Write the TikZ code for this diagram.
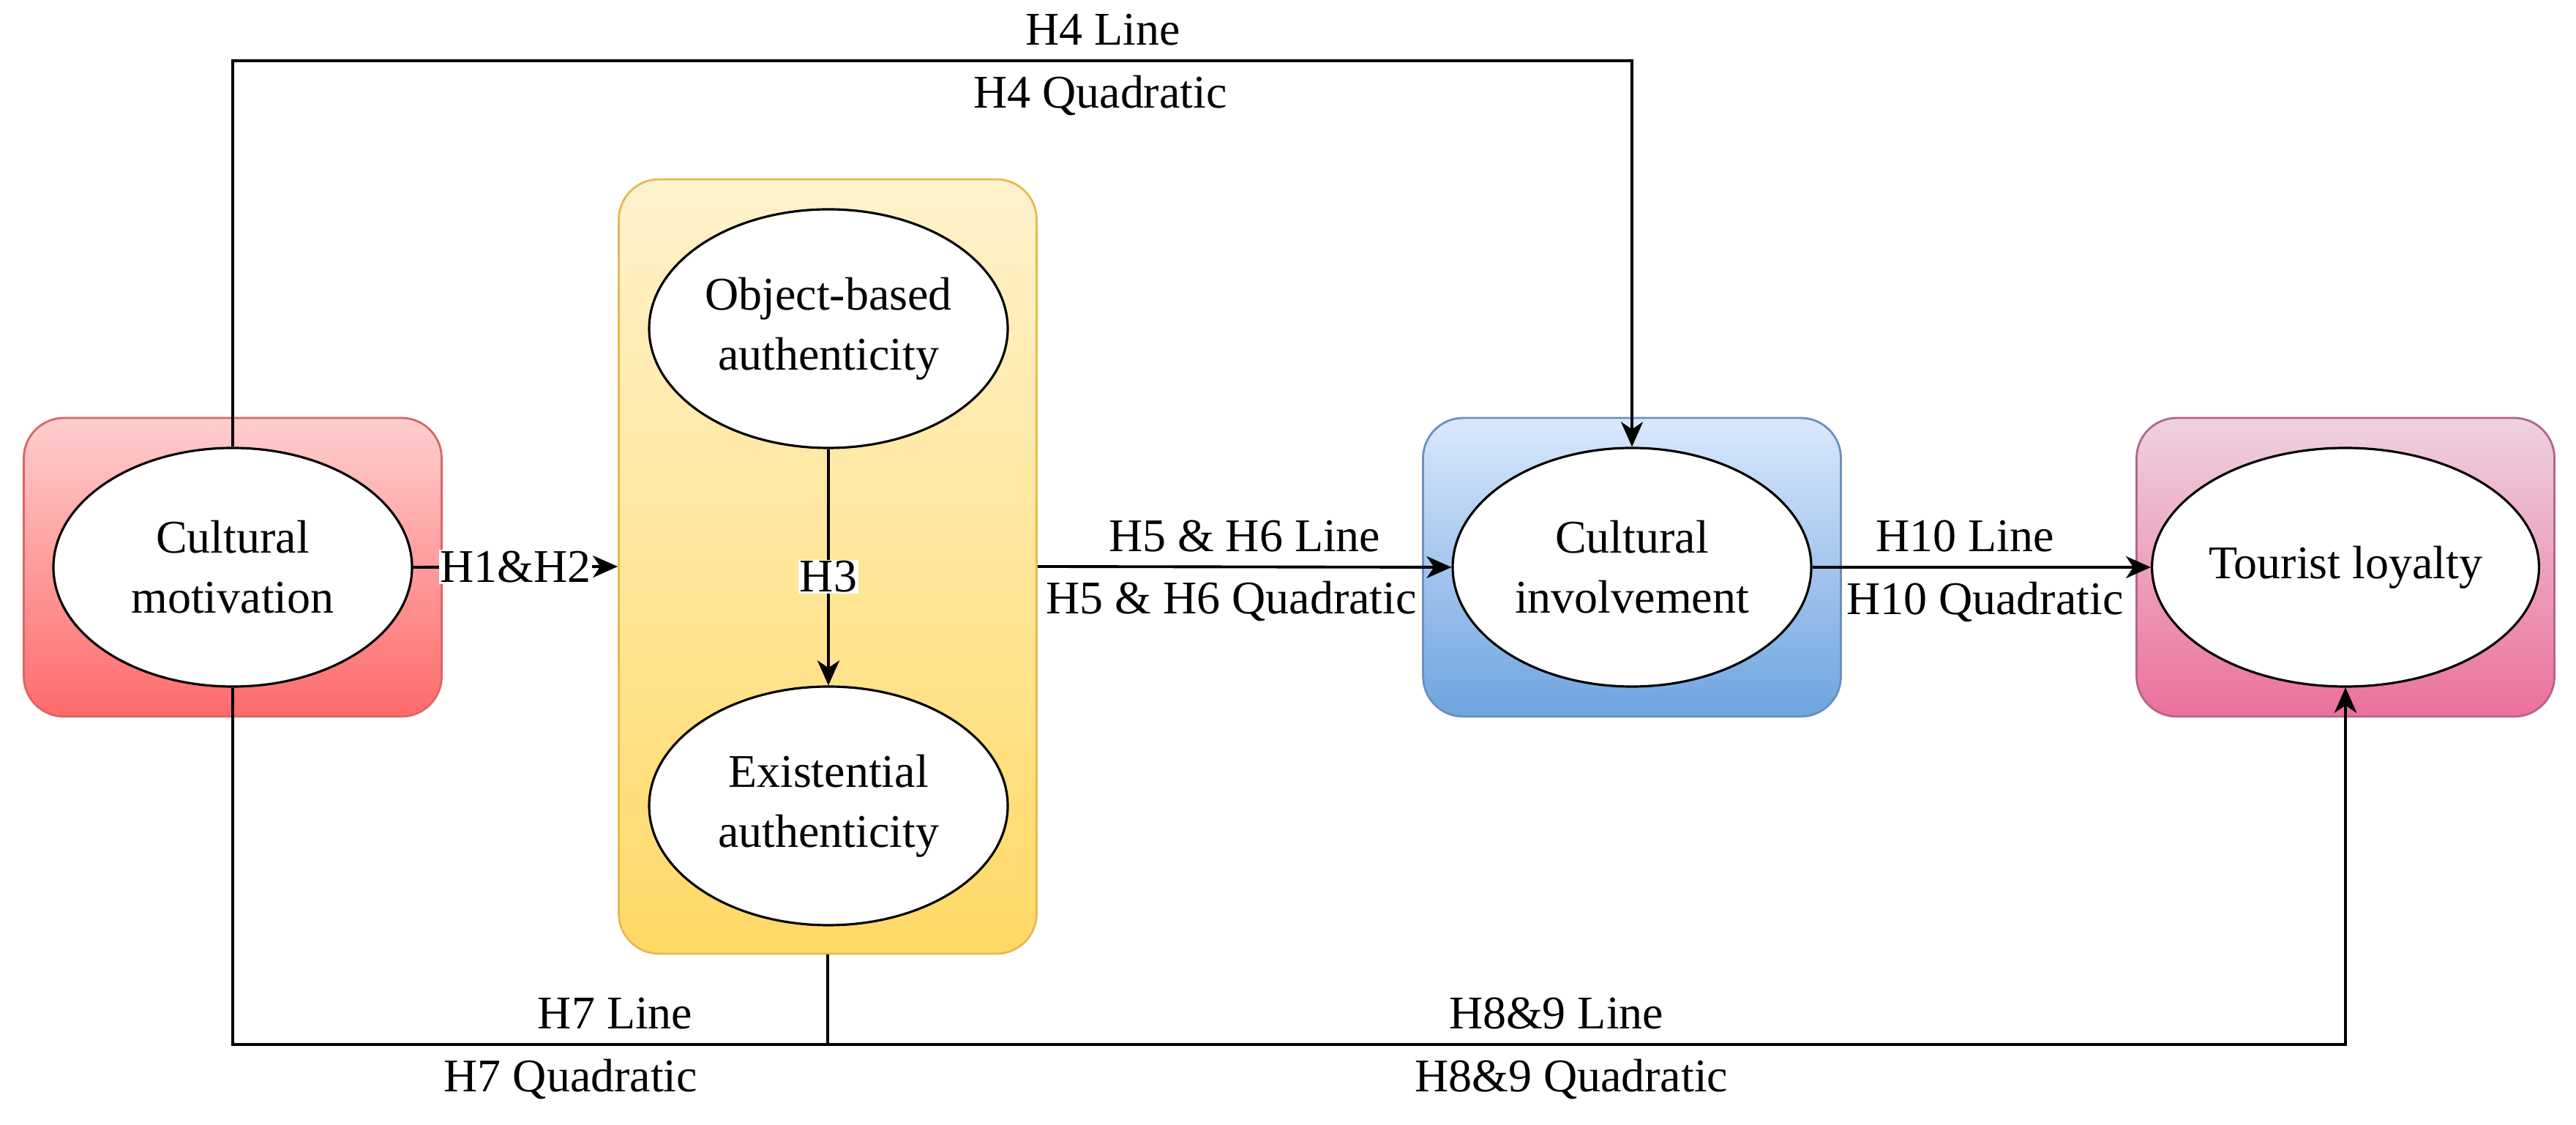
\documentclass[tikz,border=0pt]{standalone}
\usepackage{fontspec}
\setmainfont{Liberation Serif}
\usetikzlibrary{arrows.meta,shapes.geometric}
\definecolor{motivTop}{RGB}{255,206,206}
\definecolor{motivBot}{RGB}{255,106,106}
\definecolor{motivLine}{RGB}{222,100,100}
\definecolor{authTop}{RGB}{255,242,204}
\definecolor{authBot}{RGB}{255,217,102}
\definecolor{authLine}{RGB}{230,185,80}
\definecolor{involTop}{RGB}{218,232,252}
\definecolor{involBot}{RGB}{110,164,224}
\definecolor{involLine}{RGB}{108,142,191}
\definecolor{loyalTop}{RGB}{238,210,224}
\definecolor{loyalBot}{RGB}{236,112,155}
\definecolor{loyalLine}{RGB}{180,100,140}
\tikzset{
  block/.style={rectangle, rounded corners=0.55cm, line width=0.8pt, minimum width=5.71cm, minimum height=4.08cm},
  motivblock/.style={block, draw=motivLine, top color=motivTop, bottom color=motivBot},
  authblock/.style={block, draw=authLine, top color=authTop, bottom color=authBot, minimum height=10.58cm},
  involblock/.style={block, draw=involLine, top color=involTop, bottom color=involBot},
  loyalblock/.style={block, draw=loyalLine, top color=loyalTop, bottom color=loyalBot},
  oval/.style={ellipse, draw, line width=0.9pt, fill=white, minimum width=4.9cm, minimum height=3.26cm, inner sep=0pt, align=center},
  link/.style={line width=1.1pt, -{Stealth[length=0.34cm, width=0.3cm, inset=0.1cm]}},
  hyp/.style={fill=white, inner sep=0.5pt},
  uplbl/.style={anchor=base, yshift=0.21cm, inner sep=0pt},
  dnlbl/.style={anchor=base, yshift=-0.645cm, inner sep=0pt}
}
\begin{document}
\begin{tikzpicture}[every node/.style={font=\fontsize{18.2}{23.3}\selectfont}]
  \useasboundingbox (0,0) rectangle (35.2,15.36);
  \node[motivblock] (motivbox) at (3.18,7.61) {};
  \node[authblock] (auth) at (11.31,7.62) {};
  \node[involblock] (involbox) at (22.30,7.61) {};
  \node[loyalblock] (loyalbox) at (32.05,7.61) {};
  \node[oval] (motiv) at (motivbox) {Cultural\\motivation};
  \node[oval] (objauth) at (11.32,10.87) {Object-based\\authenticity};
  \node[oval] (exauth) at (11.32,4.35) {Existential\\authenticity};
  \node[oval] (involve) at (involbox) {Cultural\\involvement};
  \node[oval] (loyal) at (loyalbox) {Tourist loyalty};
  \coordinate (top) at (0,14.53);
  \coordinate (bot) at (0,1.09);
  \draw[link] (motiv.east) -- node[hyp] {H1\&H2} (auth.west);
  \draw[link] (objauth.south) -- node[hyp, pos=0.54] {H3} (exauth.north);
  \draw[link] (auth.east) -- node[uplbl, pos=0.5] {H5 \& H6 Line} node[dnlbl, pos=0.468] {H5 \& H6 Quadratic} (involve.west);
  \draw[link] (involve.east) -- node[uplbl, pos=0.45] {H10 Line} node[dnlbl, pos=0.51] {H10 Quadratic} (loyal.west);
  \draw[link] (motiv.north) -- (motiv.north |- top) -| node[uplbl, pos=0.311] {H4 Line} node[dnlbl, pos=0.310] {H4 Quadratic} (involve.north);
  \draw[link] (motiv.south) -- (motiv.south |- bot) -| node[uplbl, pos=0.0905] {H7 Line} node[dnlbl, pos=0.080] {H7 Quadratic} (loyal.south);
  \draw[link] (auth.south) -- (auth.south |- bot) -| node[uplbl, pos=0.240] {H8\&9 Line} node[dnlbl, pos=0.245] {H8\&9 Quadratic} (loyal.south);
\end{tikzpicture}
\end{document}
